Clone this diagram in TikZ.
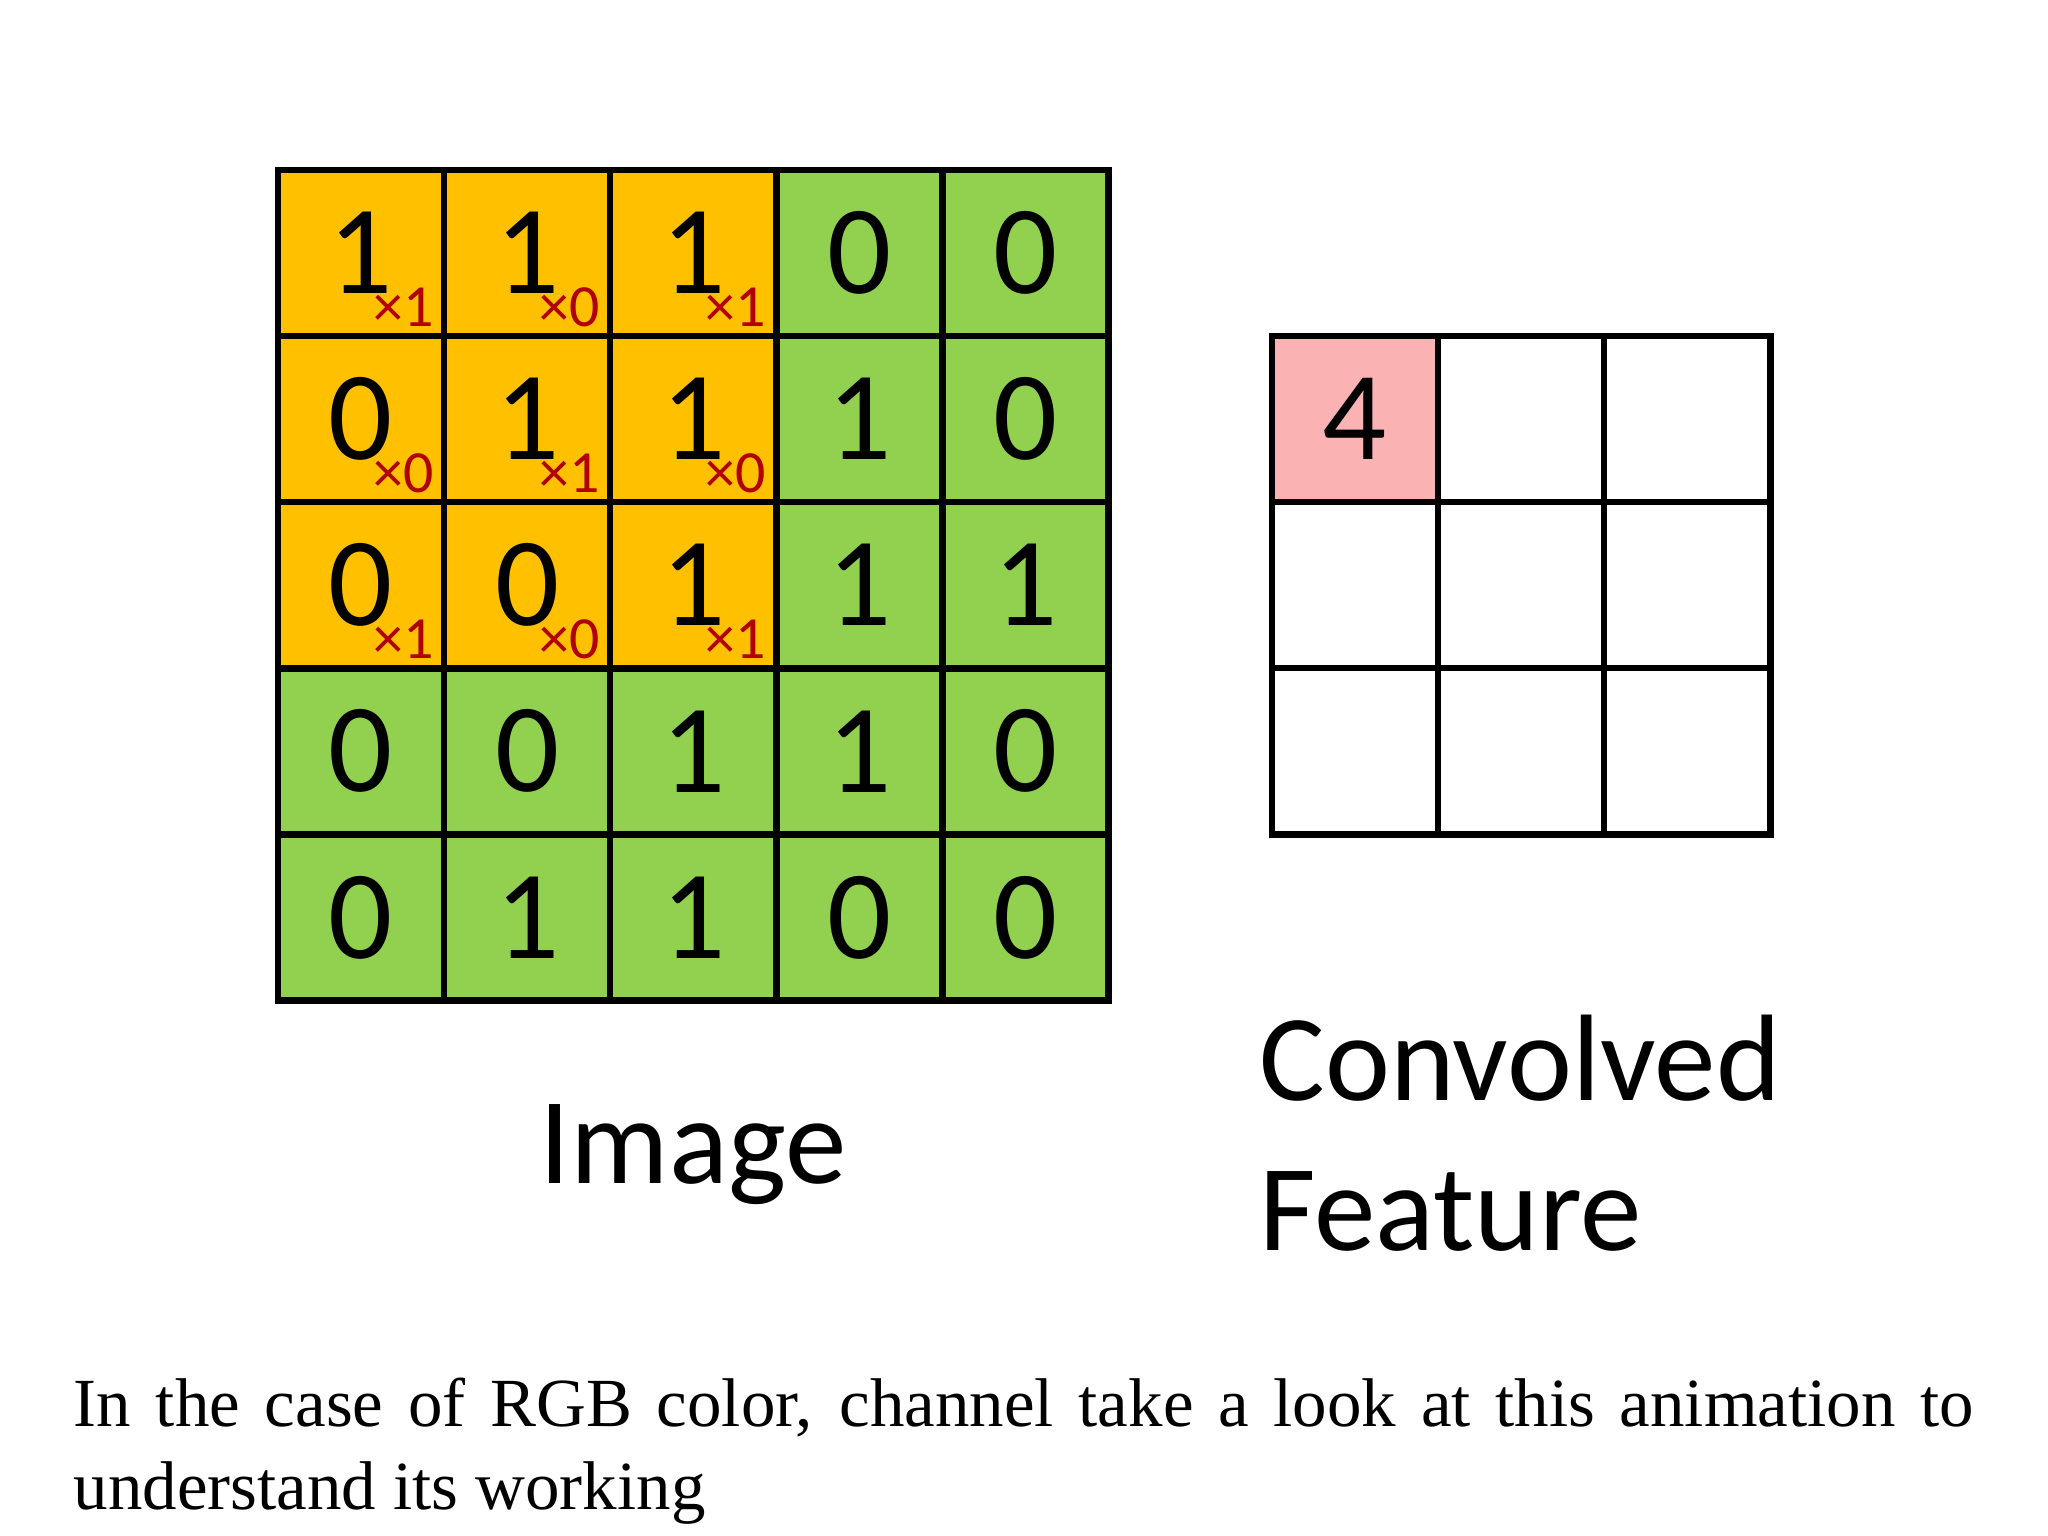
\documentclass[tikz,border=0pt]{standalone}
\usepackage{fontspec}
\setmainfont{Liberation Serif}
\newfontfamily\calibrifont{Carlito}
\usepackage{xcolor}
\usetikzlibrary{positioning, calc}

\definecolor{kernelorange}{HTML}{FFC000}
\definecolor{imagegreen}{HTML}{92D050}
\definecolor{featurepink}{HTML}{FAB2B2}
\definecolor{weightred}{HTML}{B00000}

\begin{document}
\begin{tikzpicture}[
    x=0.01cm, y=-0.01cm,
    node distance=0pt,
    cell/.style={rectangle, draw=black, line width=1.85pt, minimum size=1.66cm, inner sep=0pt, outer sep=0pt, font=\calibrifont\fontsize{36}{40}\selectfont},
    imgcell/.style={cell, fill=imagegreen},
    kercell/.style={cell, fill=kernelorange},
    featcell/.style={cell, fill=white},
    weight/.style={anchor=base east, inner sep=0pt, text=weightred, font=\calibrifont\fontsize{17}{20}\selectfont},
    caption/.style={inner sep=0pt, font=\calibrifont\fontsize{35}{42.7}\selectfont}
]
    \useasboundingbox (0,0) rectangle (2048,1536);

    % input image, kernel sits on the top left 3x3
    \node[kercell] (i11) at (361,253) {1};
    \node[kercell, right=of i11] (i12) {1};
    \node[kercell, right=of i12] (i13) {1};
    \node[imgcell, right=of i13] (i14) {0};
    \node[imgcell, right=of i14] (i15) {0};
    \node[kercell, below=of i11] (i21) {0};
    \node[kercell, right=of i21] (i22) {1};
    \node[kercell, right=of i22] (i23) {1};
    \node[imgcell, right=of i23] (i24) {1};
    \node[imgcell, right=of i24] (i25) {0};
    \node[kercell, below=of i21] (i31) {0};
    \node[kercell, right=of i31] (i32) {0};
    \node[kercell, right=of i32] (i33) {1};
    \node[imgcell, right=of i33] (i34) {1};
    \node[imgcell, right=of i34] (i35) {1};
    \node[imgcell, below=of i31] (i41) {0};
    \node[imgcell, right=of i41] (i42) {0};
    \node[imgcell, right=of i42] (i43) {1};
    \node[imgcell, right=of i43] (i44) {1};
    \node[imgcell, right=of i44] (i45) {0};
    \node[imgcell, below=of i41] (i51) {0};
    \node[imgcell, right=of i51] (i52) {1};
    \node[imgcell, right=of i52] (i53) {1};
    \node[imgcell, right=of i53] (i54) {0};
    \node[imgcell, right=of i54] (i55) {0};

    % kernel weights
    \node[weight] (w11) at ($(i11.south east)+(-10,-10)$) {×1};
    \node[weight] (w12) at ($(i12.south east)+(-10,-10)$) {×0};
    \node[weight] (w13) at ($(i13.south east)+(-10,-10)$) {×1};
    \node[weight] (w21) at ($(i21.south east)+(-10,-10)$) {×0};
    \node[weight] (w22) at ($(i22.south east)+(-10,-10)$) {×1};
    \node[weight] (w23) at ($(i23.south east)+(-10,-10)$) {×0};
    \node[weight] (w31) at ($(i31.south east)+(-10,-10)$) {×1};
    \node[weight] (w32) at ($(i32.south east)+(-10,-10)$) {×0};
    \node[weight] (w33) at ($(i33.south east)+(-10,-10)$) {×1};

    % convolved feature
    \node[featcell, fill=featurepink] (f11) at (1355,419) {4};
    \node[featcell, right=of f11] (f12) {};
    \node[featcell, right=of f12] (f13) {};
    \node[featcell, below=of f11] (f21) {};
    \node[featcell, right=of f21] (f22) {};
    \node[featcell, right=of f22] (f23) {};
    \node[featcell, below=of f21] (f31) {};
    \node[featcell, right=of f31] (f32) {};
    \node[featcell, right=of f32] (f33) {};

    \node[caption, anchor=base] (imglabel) at ($(i53.south)+(0,183)$) {Image};
    \node[caption, anchor=base west, align=left] (featlabel) at ($(f31.south west)+(-13,416)$) {Convolved\\Feature};

    \node[inner sep=0pt, anchor=base west, text width=18.99cm, align=justify, font=\fontsize{19.6}{23.6}\selectfont] (note) at (73,1426) {In the case of RGB color, channel take a look at this animation to understand its working};
\end{tikzpicture}
\end{document}
